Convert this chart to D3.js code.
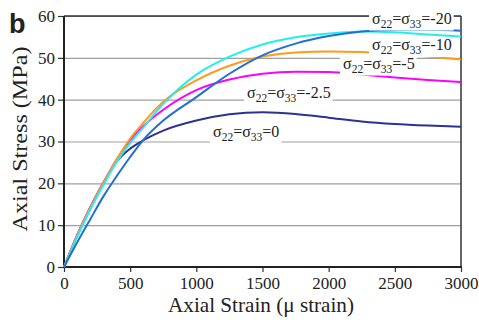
<!DOCTYPE html>
<html>
<head>
<meta charset="utf-8">
<script src="https://cdn.jsdelivr.net/npm/d3@7"></script>
<style>
  body { margin: 0; background: #fff; }
  svg { display: block; }
  text { font-family: "Liberation Serif", "Times New Roman", serif; fill: #222; }
</style>
</head>
<body>
<div id="chart"></div>
<script>
// strain (micro strain) sample points
var strain = [0, 100, 200, 300, 400, 500, 600, 750, 1000, 1250, 1500, 1750, 2000, 2250, 2500, 2750, 3000];

// axial stress (MPa) for each confinement level
var s20  = [0, 5.9, 11.5, 17, 21.8, 26.3, 30.4, 35.0, 40.6, 46.2, 50.6, 53.4, 55.2, 56.3, 56.7, 56.7, 56.5];
var s10  = [0, 7.2, 13.8, 19.7, 25.2, 29.6, 33.4, 39.0, 46.0, 50.3, 53.2, 54.9, 55.8, 56.3, 56.1, 55.6, 55.1];
var s5   = [0, 7.6, 14.3, 20.2, 25.8, 30.7, 34.5, 39.5, 44.6, 48.1, 50.3, 51.3, 51.5, 51.4, 50.9, 50.3, 49.6];
var s2_5 = [0, 7.7, 14.4, 20.3, 25.8, 30.3, 33.7, 37.6, 42.3, 44.8, 46.2, 46.7, 46.6, 46.0, 45.3, 44.7, 44.2];
var s0   = [0, 7.6, 14.3, 20.2, 25.3, 28.3, 30.3, 32.6, 35, 36.5, 37.0, 36.6, 35.7, 34.8, 34.2, 33.8, 33.5];

var xTicks = [0, 500, 1000, 1500, 2000, 2500, 3000];
var yTicks = [0, 10, 20, 30, 40, 50, 60];

var labels = ["-20", "-10", "-5", "-2.5", "0"];

var svg = d3.select("#chart")
            .append("svg")
            .attr("width", 479)
            .attr("height", 322);

var xScale = d3.scaleLinear().domain([0, 3000]).range([64, 461]);
var yScale = d3.scaleLinear().domain([0, 60]).range([267, 16]);

// gridlines
svg.append("g")
   .attr("transform", "translate(64,0)")
   .call(d3.axisLeft(yScale).tickValues(yTicks).tickSize(-397).tickFormat(""))
   .call(function(g) {
       g.select(".domain").remove();
       g.selectAll("line").attr("stroke", "#a0a0a0").attr("stroke-width", 1.2);
   });

function styleAxis(g) {
    g.attr("font-family", "Liberation Serif").attr("font-size", 17);
    g.select(".domain").remove();
    g.selectAll("line").attr("stroke", "#333").attr("stroke-width", 1.2);
    g.selectAll("text").attr("fill", "#222");
}

// y axis
svg.append("g").attr("id", "yAxisG")
   .attr("transform", "translate(64,0)")
   .call(d3.axisLeft(yScale).tickValues(yTicks).tickSize(6).tickPadding(3).tickFormat(d3.format("d")))
   .call(styleAxis);

// x axis
svg.append("g").attr("id", "xAxisG")
   .attr("transform", "translate(0,267)")
   .call(d3.axisBottom(xScale).tickValues(xTicks).tickSize(5).tickPadding(5).tickFormat(d3.format("d")))
   .call(styleAxis);

// frame
svg.append("line").attr("x1", 64).attr("x2", 461).attr("y1", 16).attr("y2", 16)
   .attr("stroke", "#333").attr("stroke-width", 1.5);
svg.append("line").attr("x1", 461).attr("x2", 461).attr("y1", 16).attr("y2", 267)
   .attr("stroke", "#333").attr("stroke-width", 1.5);
svg.append("line").attr("x1", 64).attr("x2", 64).attr("y1", 16).attr("y2", 268)
   .attr("stroke", "#222").attr("stroke-width", 2);
svg.append("line").attr("x1", 63).attr("x2", 462).attr("y1", 267).attr("y2", 267)
   .attr("stroke", "#222").attr("stroke-width", 2);

var line = d3.line()
             .x(function(d) { return xScale(d[0]); })
             .y(function(d) { return yScale(d[1]); })
             .curve(d3.curveMonotoneX);

function drawCurve(vals, colour) {
    svg.append("path")
       .attr("d", line(strain.map(function(s, i) { return [s, vals[i]]; })))
       .attr("fill", "none")
       .attr("stroke", colour)
       .attr("stroke-width", 2);
}

drawCurve(s0, "#2e3192");
drawCurve(s2_5, "#ff00ff");
drawCurve(s5, "#ff9a1a");
drawCurve(s10, "#22eeee");
drawCurve(s20, "#1f6fd6");

// curve labels (white boxed)
var labelPos = [[372, 23.5], [372, 50], [343, 68.5], [247, 98.3], [213, 136.7]];

labels.forEach(function(lab, i) {
    var g = svg.append("g");
    var box = g.append("rect").attr("fill", "#fff");
    var t = g.append("text")
             .attr("x", labelPos[i][0])
             .attr("y", labelPos[i][1])
             .style("font-size", "16px");
    t.append("tspan").text("σ");
    t.append("tspan").attr("dy", 4).style("font-size", "11.5px").text("22");
    t.append("tspan").attr("dy", -4).text("=σ");
    t.append("tspan").attr("dy", 4).style("font-size", "11.5px").text("33");
    t.append("tspan").attr("dy", -4).text("=" + lab);
    var bb = t.node().getBBox();
    box.attr("x", bb.x - 3).attr("y", bb.y + 1)
       .attr("width", bb.width + 5).attr("height", bb.height);
});

// axis titles
svg.append("text")
   .attr("x", 261).attr("y", 312)
   .attr("text-anchor", "middle")
   .attr("textLength", 186)
   .attr("lengthAdjust", "spacingAndGlyphs")
   .style("font-size", "21px")
   .text("Axial Strain (μ strain)");

svg.append("text")
   .attr("transform", "translate(27,139) rotate(-90)")
   .attr("text-anchor", "middle")
   .attr("textLength", 185)
   .attr("lengthAdjust", "spacingAndGlyphs")
   .style("font-size", "21px")
   .text("Axial Stress (MPa)");

// panel letter
svg.append("text")
   .attr("x", 9).attr("y", 33)
   .style("font-family", "Liberation Sans, Arial, sans-serif")
   .style("font-weight", "bold")
   .style("font-size", "27px")
   .attr("fill", "#111")
   .text("b");
</script>
</body>
</html>
